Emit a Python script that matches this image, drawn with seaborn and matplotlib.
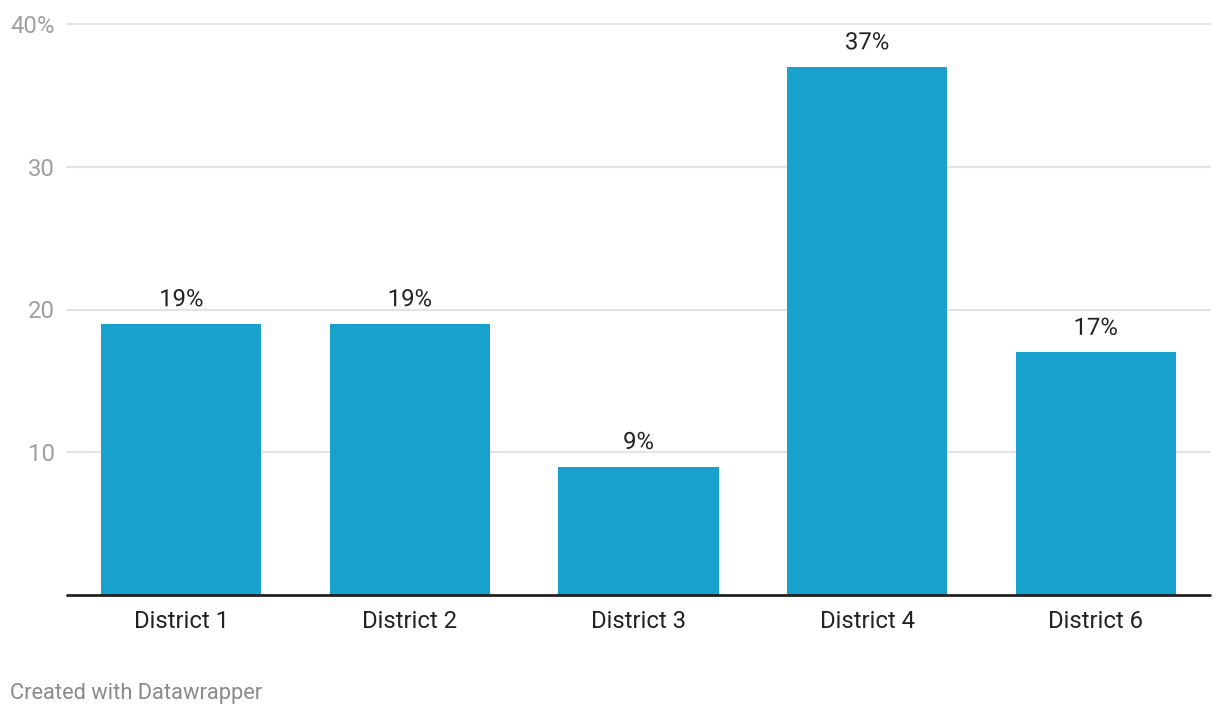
import matplotlib
matplotlib.use("Agg")
import matplotlib.pyplot as plt
import matplotlib.patheffects as pe
import seaborn as sns
import pandas as pd

districts = ["District 1", "District 2", "District 3", "District 4", "District 6"]
values = [19, 19, 9, 37, 17]
y_ticks = [10, 20, 30, 40]
y_tick_labels = ["10", "20", "30", "40%"]

sns.set_theme(style="white")
plt.rcParams["font.family"] = ["Roboto", "DejaVu Sans"]

df = pd.DataFrame({"district": districts, "value": values})

fig = plt.figure(figsize=(12.2, 7.16), dpi=100)
ax = fig.add_axes([67 / 1220, 121 / 716, 1143 / 1220, 571 / 716])

sns.barplot(data=df, x="district", y="value", color="#18a1cd", width=0.70,
            saturation=1, linewidth=0, ax=ax, zorder=3)

ax.set_xlim(-0.5, 4.5)
ax.set_ylim(0, 40)
ax.set_yticks(y_ticks)
ax.set_yticklabels(y_tick_labels)
ax.set_xlabel("")
ax.set_ylabel("")

for y in y_ticks:
    ax.axhline(y, color="#e3e3e3", lw=1.5, zorder=1, clip_on=False)
ax.axhline(0, color="#222222", lw=2, zorder=4, clip_on=False)

for s in ax.spines.values():
    s.set_visible(False)

ax.tick_params(axis="y", length=0, pad=9, labelsize=17.2, labelcolor="#a0a0a0")
ax.tick_params(axis="x", length=0, pad=11, labelsize=17.2, labelcolor="#222222")

for i, v in enumerate(values):
    ax.annotate(f"{v}%", xy=(i, v), xytext=(0, 9), textcoords="offset points",
                ha="center", va="bottom", fontsize=17.2, color="#222222", zorder=5,
                path_effects=[pe.withStroke(linewidth=4, foreground="white")])

fig.text(10 / 1220, 1 - 694 / 716, "Created with Datawrapper", ha="left", va="center",
         fontsize=15.75, color="#8a8a8a")

fig.savefig("out.png", dpi=100, facecolor="white")
